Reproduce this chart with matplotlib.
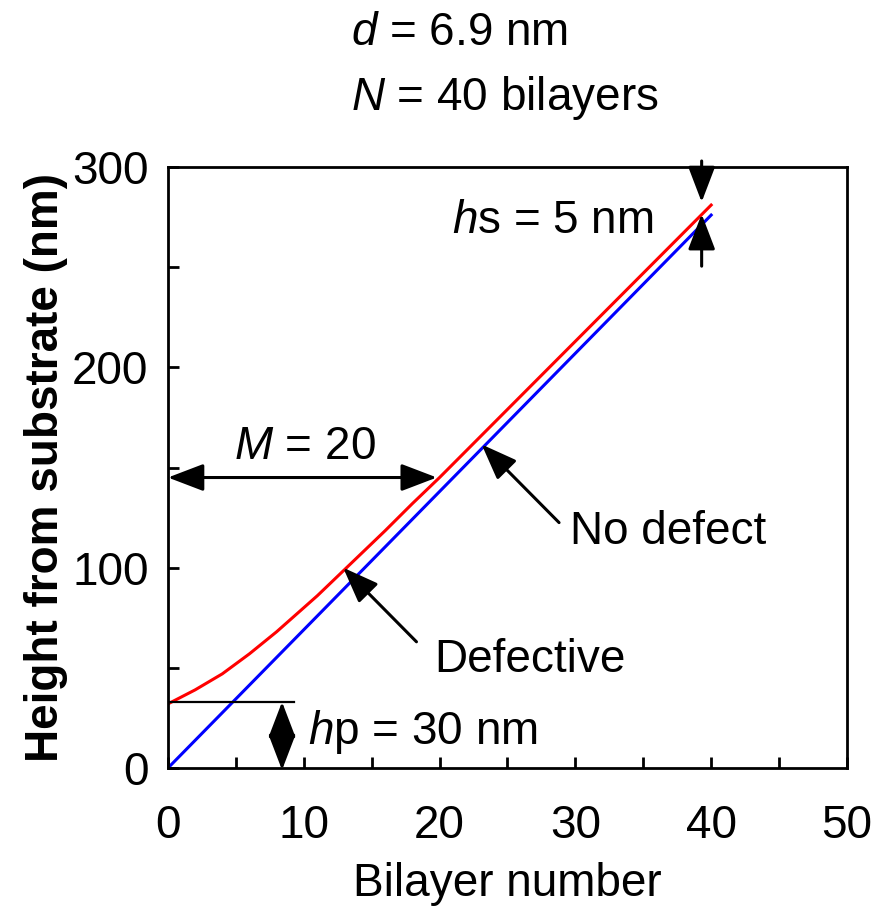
import numpy as np
import matplotlib
matplotlib.use('Agg')
import matplotlib.pyplot as plt

plt.rcParams['font.family'] = ['Liberation Sans', 'DejaVu Sans']
plt.rcParams['mathtext.fontset'] = 'custom'
plt.rcParams['mathtext.rm'] = 'Liberation Sans'
plt.rcParams['mathtext.it'] = 'Liberation Sans:italic'

# data
no_defect_n = [0, 10, 20, 30, 40]
no_defect_h = [0, 69, 138, 207, 276]

defective_n = [0, 1, 2, 3, 4, 5, 6, 7, 8, 9, 10, 11, 12, 13, 14, 15, 16, 18, 20,
               25, 30, 35, 40]
defective_h = [32, 35.5, 39, 43, 47, 52, 57, 62.5, 68, 74, 80, 86, 92.5, 99, 105.5,
               112, 118.5, 132, 145, 179, 213, 247, 281]

x_ticks = [0, 10, 20, 30, 40, 50]
y_ticks = [0, 100, 200, 300]

fs = 33

fig = plt.figure(figsize=(8.92, 9.13), dpi=100)
ax = fig.add_axes([0.1883, 0.1588, 0.7612, 0.6583])

ax.plot(no_defect_n, no_defect_h, color='#0000ff', lw=2.2)
ax.plot(defective_n, defective_h, color='#ff0000', lw=2.2)

ax.set_xlim(0, 50)
ax.set_ylim(0, 300)
ax.set_xticks(x_ticks)
ax.set_xticks(np.arange(0, 51, 5), minor=True)
ax.set_yticks(y_ticks)
ax.set_yticks(np.arange(0, 301, 50), minor=True)
ax.tick_params(which='both', direction='in', length=8, width=2)
ax.tick_params(axis='x', which='major', labelsize=fs, pad=26)
ax.tick_params(axis='y', which='major', labelsize=fs, pad=14)
for s in ax.spines.values():
    s.set_linewidth(2)

ax.set_xlabel('Bilayer number', fontsize=fs, labelpad=10)
ax.set_ylabel('Height from substrate (nm)', fontsize=fs, fontweight='bold', labelpad=3)

fig.text(0.394, 0.964, r'$d$ = 6.9 nm', fontsize=fs, ha='left', va='center')
fig.text(0.394, 0.893, r'$N$ = 40 bilayers', fontsize=fs, ha='left', va='center')

head = '-|>,head_length=1.1,head_width=0.42'
dhead = '<|-|>,head_length=1.1,head_width=0.42'
kw = dict(color='black', lw=2.2, mutation_scale=20, shrinkA=0, shrinkB=0)

# M = 20
ax.annotate('', xy=(19.8, 145), xytext=(0, 145), arrowprops=dict(arrowstyle=dhead, **kw))
ax.text(10.1, 160, r'$M$ = 20', fontsize=fs, ha='center', va='center')

# hp = 30 nm
ax.plot([0, 9.3], [33, 33], color='black', lw=1.6)
ax.annotate('', xy=(8.4, 33), xytext=(8.4, 16.5), arrowprops=dict(arrowstyle=head, **kw))
ax.annotate('', xy=(8.4, -1), xytext=(8.4, 14.5), arrowprops=dict(arrowstyle=head, **kw),
            annotation_clip=False)
ax.plot([8.4, 8.4], [14.5, 16.5], color='black', lw=2.2)
ax.text(10.3, 18, r'$h$p = 30 nm', fontsize=fs, ha='left', va='center')

# hs = 5 nm
ax.annotate('', xy=(39.3, 282.5), xytext=(39.3, 303), arrowprops=dict(arrowstyle=head, **kw),
            annotation_clip=False)
ax.annotate('', xy=(39.3, 276.5), xytext=(39.3, 250.5), arrowprops=dict(arrowstyle=head, **kw))
ax.text(20.9, 273, r'$h$s = 5 nm', fontsize=fs, ha='left', va='center')

# labels for curves
ax.annotate('', xy=(12.9, 100), xytext=(18.3, 63), arrowprops=dict(arrowstyle=head, **kw))
ax.text(19.6, 54, 'Defective', fontsize=fs, ha='left', va='center')
ax.annotate('', xy=(23.1, 161.5), xytext=(28.8, 122.5), arrowprops=dict(arrowstyle=head, **kw))
ax.text(29.6, 118, 'No defect', fontsize=fs, ha='left', va='center')

fig.savefig('out.png', dpi=100)
